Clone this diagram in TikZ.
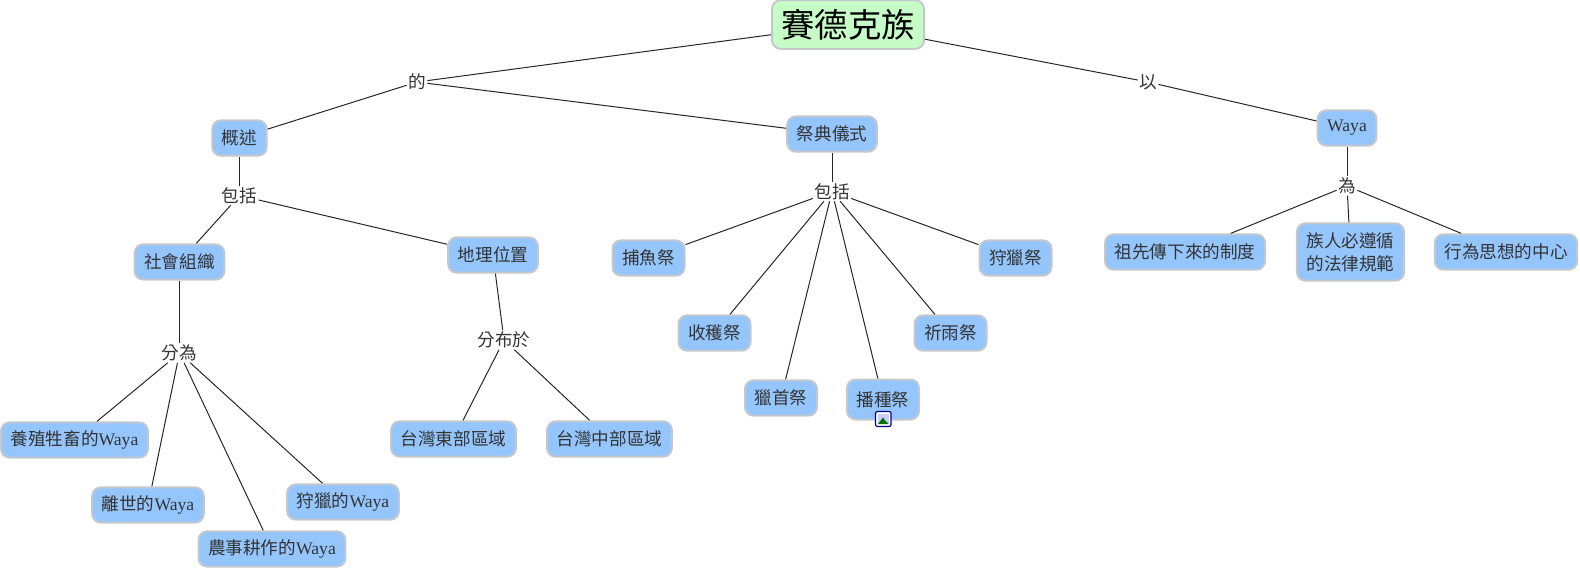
\documentclass[tikz,border=0pt]{standalone}
\usepackage{fontspec}
\setmainfont{Liberation Serif}
\newfontfamily\cjk{Noto Sans CJK TC}
\definecolor{conceptblue}{HTML}{94C6FD}
\definecolor{rootgreen}{HTML}{C6FDC6}
\definecolor{boxedge}{HTML}{C3C8CF}
\tikzset{
	concept/.style={draw=boxedge,line width=1.5pt,fill=conceptblue,rounded corners=6.5pt,text=black!80,font=\fontsize{13.2}{16}\selectfont,inner xsep=7.2pt,inner ysep=0pt,minimum height=26.5pt,align=center},
	root/.style={concept,fill=rootgreen,text=black,font=\fontsize{25}{28}\selectfont,inner xsep=7pt,minimum height=36.5pt},
	linking/.style={fill=white,text=black!80,font=\fontsize{13.2}{16}\selectfont,inner sep=1pt},
	link/.style={line width=0.75pt,black!85}
}
\begin{document}
\begin{tikzpicture}[x=0.75pt,y=-0.75pt]
	\useasboundingbox (0,0) rectangle (1580,569);
	
	\node (zuqun) at (848,24.5)[root]{\cjk 賽德克族};
	\node (gaishu) at (239.5,138)[concept]{\cjk 概述};
	\node (jidian) at (832,134)[concept]{\cjk 祭典儀式};
	\node (waya) at (1347,128)[concept]{Waya};
	
	\node (shehui) at (179.5,262)[concept]{\cjk 社會組織};
	\node (dili) at (493,255)[concept]{\cjk 地理位置};
	\node (yangzhi) at (74.5,440)[concept]{{\cjk 養殖牲畜的}Waya};
	\node (lishi) at (148,505)[concept]{{\cjk 離世的}Waya};
	\node (nongshi) at (272,549)[concept]{{\cjk 農事耕作的}Waya};
	\node (shoulie) at (343,502)[concept]{{\cjk 狩獵的}Waya};
	\node (dongbu) at (453.5,439)[concept]{\cjk 台灣東部區域};
	\node (zhongbu) at (609.5,439)[concept]{\cjk 台灣中部區域};
	
	\node (buyu) at (648.5,258)[concept]{\cjk 捕魚祭};
	\node (shouhuo) at (714.5,333)[concept]{\cjk 收穫祭};
	\node (lieshou) at (781,398)[concept]{\cjk 獵首祭};
	\node (bozhong) at (883,399.5)[concept,minimum height=30pt]{\cjk 播種祭};
	\node (qiyu) at (950.5,333)[concept]{\cjk 祈雨祭};
	\node (lieji) at (1015.5,258)[concept]{\cjk 狩獵祭};
	
	\node (zhidu) at (1185,252)[concept]{\cjk 祖先傳下來的制度};
	\node (falv) at (1350.5,252)[concept,font=\fontsize{13.2}{17}\selectfont,minimum height=43pt]{\cjk 族人必遵循\\\cjk 的法律規範};
	\node (zhongxin) at (1506,252)[concept]{\cjk 行為思想的中心};
	
	\node (de) at (417,82)[linking]{\cjk 的};
	\node (yi) at (1148,82)[linking]{\cjk 以};
	\node (baokuoa) at (239.5,195.5)[linking]{\cjk 包括};
	\node (baokuob) at (832,191.5)[linking]{\cjk 包括};
	\node (wei) at (1347,186)[linking]{\cjk 為};
	\node (fenwei) at (179.5,353)[linking]{\cjk 分為};
	\node (fenbu) at (504,340)[linking]{\cjk 分布於};
	
	\draw[link] (zuqun) -- (de);
	\draw[link] (de) -- (gaishu);
	\draw[link] (de) -- (jidian);
	\draw[link] (zuqun) -- (yi);
	\draw[link] (yi) -- (waya);
	
	\draw[link] (gaishu) -- (baokuoa);
	\draw[link] (baokuoa) -- (shehui);
	\draw[link] (baokuoa) -- (dili);
	\draw[link] (shehui) -- (fenwei);
	\draw[link] (fenwei) -- (yangzhi);
	\draw[link] (fenwei) -- (lishi);
	\draw[link] (fenwei) -- (nongshi);
	\draw[link] (fenwei) -- (shoulie);
	\draw[link] (dili) -- (fenbu);
	\draw[link] (fenbu) -- (dongbu);
	\draw[link] (fenbu) -- (zhongbu);
	
	\draw[link] (jidian) -- (baokuob);
	\draw[link] (baokuob) -- (buyu);
	\draw[link] (baokuob) -- (shouhuo);
	\draw[link] (baokuob) -- (lieshou);
	\draw[link] (baokuob) -- (bozhong);
	\draw[link] (baokuob) -- (qiyu);
	\draw[link] (baokuob) -- (lieji);
	
	\draw[link] (waya) -- (wei);
	\draw[link] (wei) -- (zhidu);
	\draw[link] (wei) -- (falv);
	\draw[link] (wei) -- (zhongxin);
	
	% picture icon on the box
	\draw[draw=blue!55!black,line width=0.9pt,fill=white,rounded corners=1.5pt] (875.5,411.5) rectangle (891,426.5);
	\fill[blue!20] (878,414) rectangle (888.5,424);
	\fill[green!45!black] (878,424) -- (883,417.5) -- (885,420.5) -- (888.5,424) -- cycle;
\end{tikzpicture}
\end{document}
